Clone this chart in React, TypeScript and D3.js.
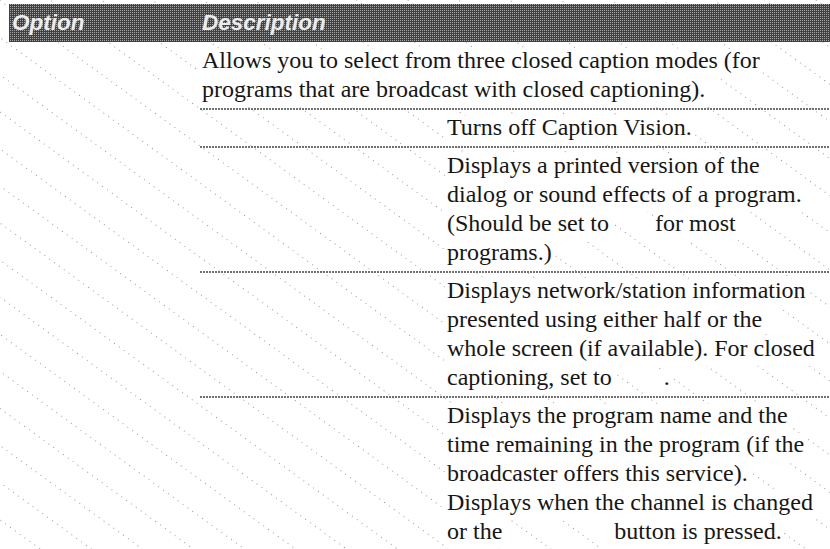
import React, { useEffect, useRef } from "react";
import * as d3 from "d3";

const headerLabels = ["Option", "Description"];

// "|" marks a word that is blank in the scan
const modeIntro = [
  "Allows you to select from three closed caption modes (for",
  "programs that are broadcast with closed captioning).",
];
const offText = ["Turns off Caption Vision."];
const captionText = [
  "Displays a printed version of the",
  "dialog or sound effects of a program.",
  "(Should be set to|for most",
  "programs.)",
];
const textModeText = [
  "Displays network/station information",
  "presented using either half or the",
  "whole screen (if available). For closed",
  "captioning, set to|.",
];
const infoText = [
  "Displays the program name and the",
  "time remaining in the program (if the",
  "broadcaster offers this service).",
  "Displays when the channel is changed",
  "or the|button is pressed.",
];

const rows = [
  { lines: modeIntro, sub: false },
  { lines: offText, sub: true },
  { lines: captionText, sub: true },
  { lines: textModeText, sub: true },
  { lines: infoText, sub: true },
];

// widths of the blanked-out words, in order
const blankWidths = [46, 52, 112];

const W = 830;
const H = 549;
const HEAD_TOP = 4;
const HEAD_BOTTOM = 42;
const HEAD_LEFT = 9;
const DESC_X = 202;
const SUB_X = 447;
const RULE_X = 200;
const LINE_H = 29;
const ROW_PAD = 9;
const BASE_OFF = 26;
const FS = 24;
const SERIF = "Liberation Serif, Tinos, Times New Roman, serif";

const App: React.FC = () => {
  const ref = useRef<SVGSVGElement>(null);

  useEffect(() => {
    if (!ref.current) return;
    const svg = d3.select(ref.current);
    svg.selectAll("*").remove();

    const defs = svg.append("defs");
    const hatch = defs
      .append("pattern")
      .attr("id", "hatch")
      .attr("patternUnits", "userSpaceOnUse")
      .attr("width", 6)
      .attr("height", 30)
      .attr("patternTransform", "rotate(36)");
    hatch.append("rect").attr("width", 1).attr("height", 1).attr("fill", "#9a9a9a");

    const dither = defs
      .append("pattern")
      .attr("id", "dither")
      .attr("patternUnits", "userSpaceOnUse")
      .attr("width", 2)
      .attr("height", 2);
    dither.append("rect").attr("width", 2).attr("height", 2).attr("fill", "#414141");
    dither.append("rect").attr("width", 1).attr("height", 1).attr("fill", "#a5a5a5");

    svg.append("rect").attr("width", W).attr("height", H).attr("fill", "#fff");
    svg.append("rect").attr("width", W).attr("height", H).attr("fill", "url(#hatch)");

    // header band
    svg
      .append("rect")
      .attr("x", HEAD_LEFT)
      .attr("y", HEAD_TOP)
      .attr("width", W - HEAD_LEFT)
      .attr("height", HEAD_BOTTOM - HEAD_TOP)
      .attr("fill", "url(#dither)");
    svg
      .selectAll("text.head")
      .data(headerLabels)
      .join("text")
      .attr("class", "head")
      .attr("x", (_, i) => (i === 0 ? 12 : DESC_X))
      .attr("y", 30)
      .attr("font-family", "Liberation Sans, Arial, sans-serif")
      .attr("font-weight", "bold")
      .attr("font-style", "italic")
      .attr("font-size", 22.5)
      .attr("fill", "#ececec")
      .text((d) => d);

    // row tops from line counts
    const heights = rows.map((r) => r.lines.length * LINE_H + ROW_PAD);
    const rowTops = [HEAD_BOTTOM, ...Array.from(d3.cumsum(heights)).map((h) => HEAD_BOTTOM + h)];

    svg
      .selectAll("line.rule")
      .data(rowTops.slice(1, rows.length))
      .join("line")
      .attr("class", "rule")
      .attr("x1", RULE_X)
      .attr("x2", W)
      .attr("y1", (d) => d)
      .attr("y2", (d) => d)
      .attr("stroke", "#707070")
      .attr("stroke-width", 1.8)
      .attr("stroke-dasharray", "2 1");

    const g = svg.append("g");
    let b = 0;
    rows.forEach((row, r) => {
      const x0 = row.sub ? SUB_X : DESC_X;
      row.lines.forEach((line, i) => {
        const y = rowTops[r] + BASE_OFF + i * LINE_H;
        let x = x0;
        const segs = line.split("|");
        segs.forEach((seg, k) => {
          const bg = g.append("rect").attr("fill", "#fff");
          const t = g
            .append("text")
            .attr("x", x)
            .attr("y", y)
            .style("font-family", SERIF)
            .attr("font-size", FS)
            .attr("fill", "#161616")
            .text(seg);
          const w = (t.node() as SVGTextElement).getComputedTextLength();
          bg.attr("x", x - 2)
            .attr("y", y - FS * 0.8)
            .attr("width", w + 4)
            .attr("height", LINE_H);
          x += w + (k < segs.length - 1 ? blankWidths[b++] : 0);
        });
      });
    });
  }, []);

  return (
    <svg
      ref={ref}
      width={W}
      height={H}
      style={{ position: "absolute", left: 0, top: 0, display: "block" }}
    />
  );
};

export default App;
